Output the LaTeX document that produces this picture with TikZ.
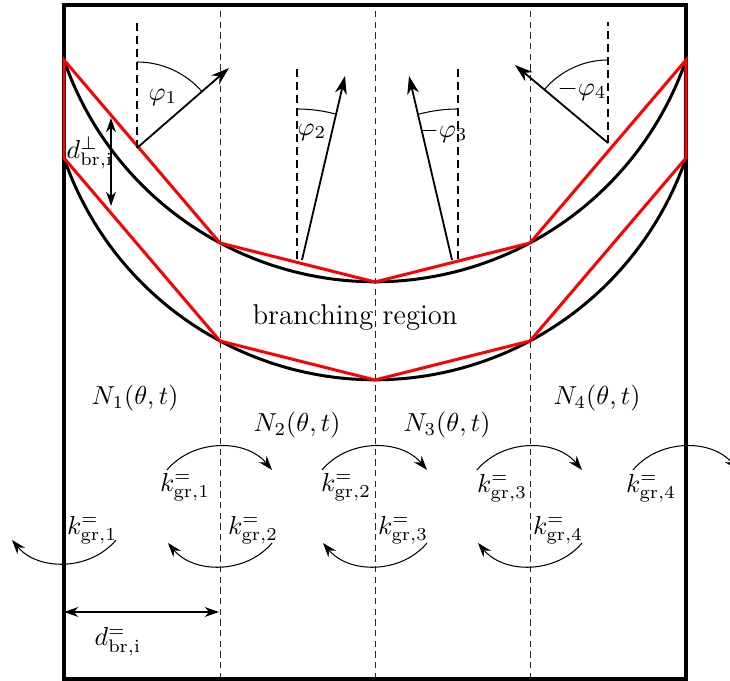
\documentclass[tikz,border=0pt]{standalone}
\usepackage{amsmath}
\usetikzlibrary{arrows.meta}

\begin{document}
\begin{tikzpicture}[x=0.01351cm, y=0.01351cm, >={Stealth[length=5.5pt,width=3.8pt]},
    box/.style={line width=1.5pt},
    sep/.style={dashed, black!85, line width=0.35pt, dash pattern=on 2.4pt off 1.7pt},
    ref/.style={line width=0.8pt, dash pattern=on 3pt off 2pt},
    curve/.style={line width=1.15pt},
    chord/.style={red, line width=1.15pt},
    dir/.style={-{Stealth[length=7pt,width=4.6pt]}, line width=0.7pt},
    rate/.style={->, line width=0.4pt}]
    \useasboundingbox (0,0) rectangle (730,681);

    % Trennlinien der Zellen
    \draw[sep] (220,2) -- (220,676);
    \draw[sep] (375,2) -- (375,676);
    \draw[sep] (530,2) -- (530,676);

    % Rand
    \draw[box] (64,2) rectangle (686,676);

    % Verzweigungsgebiet: Kreisboegen
    \draw[curve] (64,621) arc[start angle=-160.97, end angle=-19.03, radius=329];
    \draw[curve] (64,523) arc[start angle=-160.97, end angle=-19.03, radius=329];

    % Polygon-Naeherung
    \draw[chord] (64,621) -- (220,438) -- (375,399) -- (530,438) -- (686,621)
        -- (686,523) -- (530,340) -- (375,301) -- (220,340) -- (64,523) -- cycle;

    \node (region) at (355,363) {\fontsize{11}{13}\selectfont branching region};

    % Wachstumsrichtungen
    \coordinate (b1) at (137,533);
    \coordinate (t1) at (229,613);
    \coordinate (b2) at (302,421);
    \coordinate (t2) at (345,605);
    \coordinate (b3) at (452,421);
    \coordinate (t3) at (409,605);
    \coordinate (b4) at (608,538);
    \coordinate (t4) at (515,616);

    \draw[ref] (137,533) -- (137,659);
    \draw[ref] (297,422) -- (297,613);
    \draw[ref] (458,422) -- (458,613);
    \draw[ref] (608,538) -- (608,659);

    \draw[dir] (b1) -- (t1);
    \draw[dir] (b2) -- (t2);
    \draw[dir] (b3) -- (t3);
    \draw[dir] (b4) -- (t4);

    % Winkel
    \draw[line width=0.4pt] (137,619) arc[start angle=90, end angle=41, radius=86];
    \draw[line width=0.4pt] (297,572) arc[start angle=90, end angle=75, radius=150];
    \draw[line width=0.4pt] (458,572) arc[start angle=90, end angle=105, radius=150];
    \draw[line width=0.4pt] (608,621) arc[start angle=90, end angle=140, radius=83];
    \node (phi1) at (163,584) {$\varphi_1$};
    \node (phi2) at (312,549) {$\varphi_2$};
    \node (phi3) at (443,549) {$-\varphi_3$};
    \node (phi4) at (582,591) {$-\varphi_4$};

    % Abstaende
    \coordinate (dp1) at (111,563);
    \coordinate (dp2) at (111,475);
    \draw[<->, line width=0.5pt] (dp1) -- (dp2);
    \node (dperp) at (90,528) {$d_{\mathrm{br,i}}^{\perp}$};

    \coordinate (dq1) at (64,69);
    \coordinate (dq2) at (219,69);
    \draw[<->, line width=0.5pt] (dq1) -- (dq2);
    \node (dpar) at (118,39) {$d_{\mathrm{br,i}}^{=}$};

    % Zellen
    \node (N1) at (135,283) {$N_1(\theta,t)$};
    \node (N2) at (297,256) {$N_2(\theta,t)$};
    \node (N3) at (447,256) {$N_3(\theta,t)$};
    \node (N4) at (597,283) {$N_4(\theta,t)$};

    % Raten nach rechts
    \draw[rate] (167,211) to[bend left=50] (272,211);
    \draw[rate] (322,211) to[bend left=50] (427,211);
    \draw[rate] (477,211) to[bend left=50] (582,211);
    \draw[rate] (633,211) to[bend left=50] (738,211);
    \node (kr1) at (185,194) {$k_{\mathrm{gr},1}^{=}$};
    \node (kr2) at (346,194) {$k_{\mathrm{gr},2}^{=}$};
    \node (kr3) at (502,193) {$k_{\mathrm{gr},3}^{=}$};
    \node (kr4) at (651,193) {$k_{\mathrm{gr},4}^{=}$};

    % Raten nach links
    \draw[rate] (116,141) to[bend left=50] (12,141);
    \draw[rate] (272,138) to[bend left=50] (168,138);
    \draw[rate] (427,138) to[bend left=50] (323,138);
    \draw[rate] (582,138) to[bend left=50] (478,138);
    \node (kl1) at (92,151) {$k_{\mathrm{gr},1}^{=}$};
    \node (kl2) at (253,151) {$k_{\mathrm{gr},2}^{=}$};
    \node (kl3) at (403,151) {$k_{\mathrm{gr},3}^{=}$};
    \node (kl4) at (558,151) {$k_{\mathrm{gr},4}^{=}$};
\end{tikzpicture}
\end{document}
